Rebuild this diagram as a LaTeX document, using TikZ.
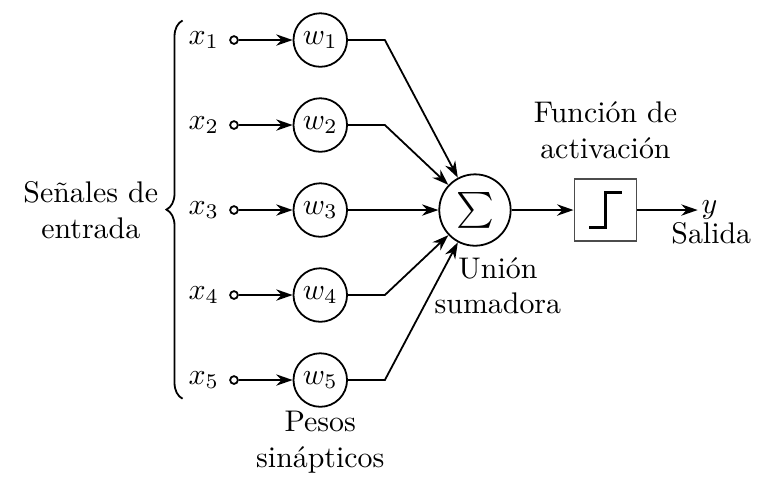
\documentclass[tikz,border=0pt]{standalone}
\usepackage{amsmath}
\usetikzlibrary{arrows.meta,decorations.pathreplacing}

\tikzset{
    >={Stealth[length=5.5pt,width=3.8pt]},
    every path/.style={line width=0.6pt},
    wnode/.style={draw,circle,inner sep=0pt,minimum size=0.63cm},
    inport/.style={draw,circle,inner sep=0pt,minimum size=2.6pt},
    sumnode/.style={draw,circle,inner sep=0pt,minimum size=0.84cm},
    actbox/.style={draw=black!70,rectangle,inner sep=0pt,minimum size=0.73cm},
}

\begin{document}
\begin{tikzpicture}[scale=1]
                    % \helpgrid{3}{3}
                    \useasboundingbox (-5.588,-3.424) rectangle (3.412,2.471);

                    % entradas y pesos
                    \foreach \i/\yy in {1/2,2/1,3/0,4/-1,5/-2} {
                        \node (x\i) at (-3.19,\yy) {$x_\i$};
                        \node[inport] (p\i) at (-2.835,\yy) {};
                        \node[wnode] (w\i) at (-1.82,\yy) {$w_\i$};
                        \coordinate (c\i) at (-1.06,\yy);
                    }

                    \node[sumnode] (sum) at (0,0) {\large$\sum$};
                    \node[actbox] (act) at (1.535,0) {};
                    \node[anchor=west,inner sep=1pt] (y) at (2.62,0) {$y$};

                    \foreach \i in {1,...,5} {
                        \draw[->] (p\i) -- (w\i);
                        \draw[->] (w\i) -- (c\i) -- (sum);
                    }
                    \draw[->] (sum) -- (act);
                    \draw[->] (act) -- (y);

                    % escalon
                    \draw[line width=1pt] ([shift={(-0.19,-0.21)}]act.center) -- ++(0.19,0) -- ++(0,0.42) -- ++(0.19,0);

                    % llave
                    \coordinate (bb) at (-3.44,-2.22);
                    \coordinate (bt) at (-3.44,2.23);
                    \draw[decorate,decoration={brace,amplitude=5.4pt}] (bb) -- (bt);

                    % textos
                    \node[align=center] (senales) at (-4.52,0) {Señales de\\entrada};
                    \node[align=center] (pesos) at (-1.82,-2.73) {Pesos\\sinápticos};
                    \node[align=center] (union) at (0.27,-0.89) {Unión\\sumadora};
                    \node[align=center] (funcion) at (1.535,0.94) {Función de\\activación};
                    \node[anchor=base] (salida) at (2.78,-0.39) {Salida};

                \end{tikzpicture}
\end{document}
